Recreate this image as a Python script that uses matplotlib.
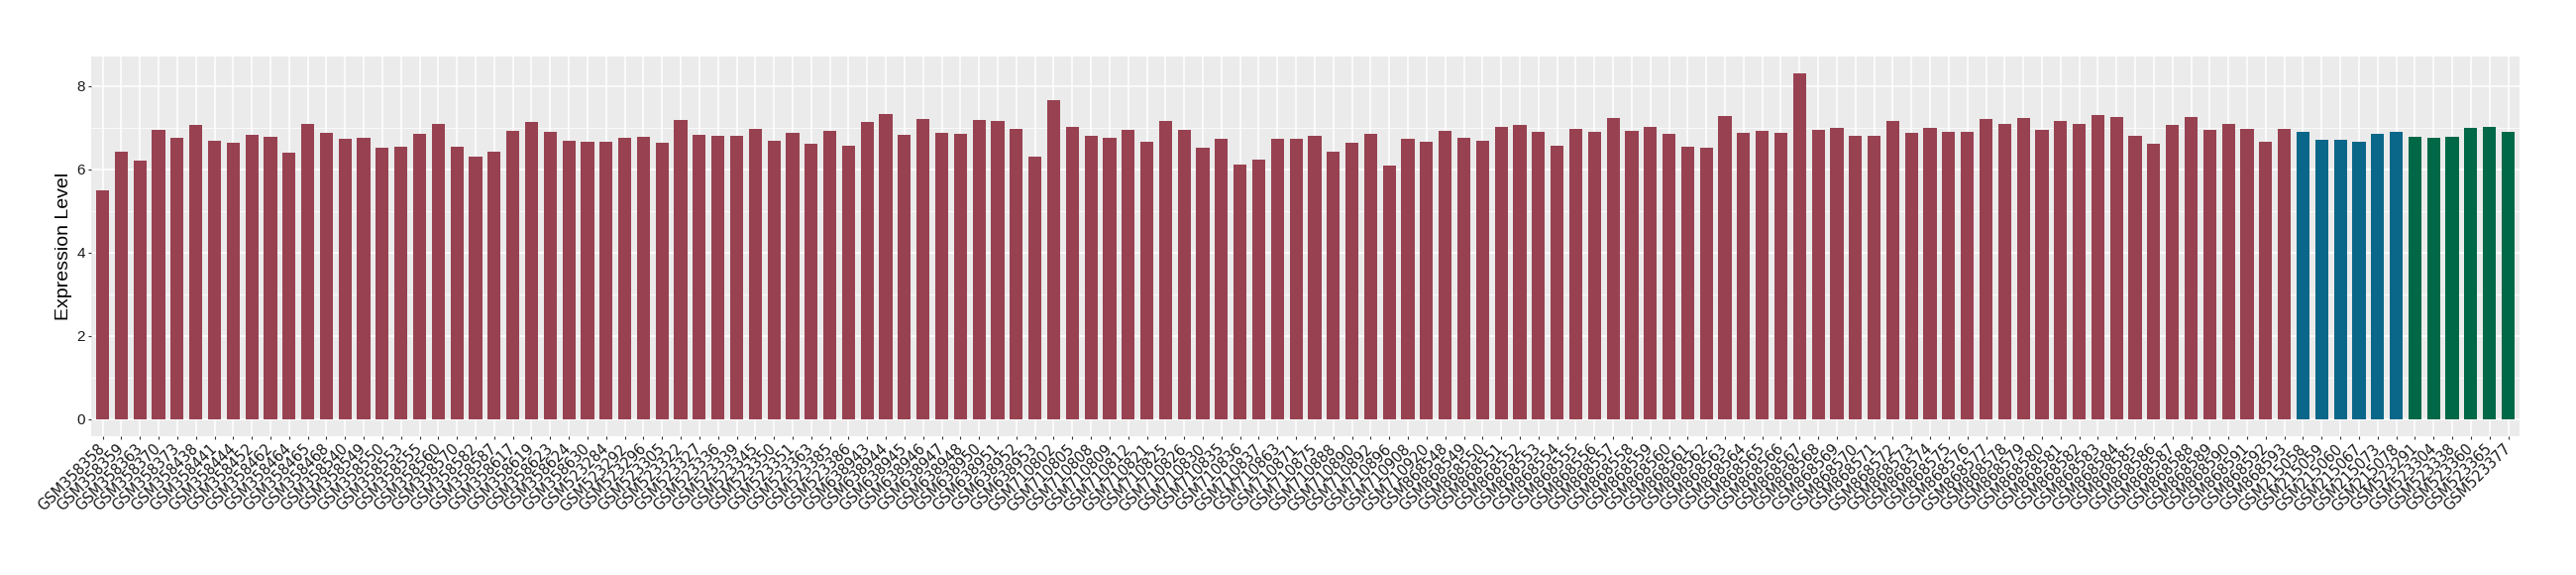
import matplotlib
matplotlib.use("Agg")
import matplotlib.pyplot as plt
import numpy as np

# sample ids, one list per colour group
red_samples = [
    "GSM358358", "GSM358359", "GSM358363", "GSM358370", "GSM358373", "GSM358438",
    "GSM358441", "GSM358444", "GSM358452", "GSM358462", "GSM358464", "GSM358465",
    "GSM358468", "GSM358540", "GSM358549", "GSM358550", "GSM358553", "GSM358555",
    "GSM358560", "GSM358570", "GSM358582", "GSM358587", "GSM358617", "GSM358619",
    "GSM358623", "GSM358624", "GSM358630",
    "GSM523284", "GSM523292", "GSM523296", "GSM523305", "GSM523322", "GSM523327",
    "GSM523336", "GSM523339", "GSM523345", "GSM523350", "GSM523351", "GSM523363",
    "GSM523385", "GSM523386",
    "GSM638943", "GSM638944", "GSM638945", "GSM638946", "GSM638947", "GSM638948",
    "GSM638950", "GSM638951", "GSM638952", "GSM638953",
    "GSM710802", "GSM710805", "GSM710808", "GSM710809", "GSM710812", "GSM710821",
    "GSM710825", "GSM710826", "GSM710830", "GSM710835", "GSM710836", "GSM710837",
    "GSM710863", "GSM710871", "GSM710875", "GSM710888", "GSM710890", "GSM710892",
    "GSM710896", "GSM710908", "GSM710920",
    "GSM868548", "GSM868549", "GSM868550", "GSM868551", "GSM868552", "GSM868553",
    "GSM868554", "GSM868555", "GSM868556", "GSM868557", "GSM868558", "GSM868559",
    "GSM868560", "GSM868561", "GSM868562", "GSM868563", "GSM868564", "GSM868565",
    "GSM868566", "GSM868567", "GSM868568", "GSM868569", "GSM868570", "GSM868571",
    "GSM868572", "GSM868573", "GSM868574", "GSM868575", "GSM868576", "GSM868577",
    "GSM868578", "GSM868579", "GSM868580", "GSM868581", "GSM868582", "GSM868583",
    "GSM868584", "GSM868585", "GSM868586", "GSM868587", "GSM868588", "GSM868589",
    "GSM868590", "GSM868591", "GSM868592", "GSM868593",
]
red_values = [
    5.49, 6.42, 6.21, 6.95, 6.75, 7.06, 6.68, 6.63, 6.83, 6.78, 6.40, 7.09,
    6.87, 6.73, 6.75, 6.52, 6.54, 6.85, 7.09, 6.54, 6.30, 6.42, 6.92, 7.13,
    6.90, 6.68, 6.66,
    6.66, 6.75, 6.78, 6.63, 7.18, 6.83, 6.80, 6.80, 6.97, 6.68, 6.87, 6.61,
    6.92, 6.56,
    7.13, 7.33, 6.83, 7.21, 6.87, 6.85, 7.18, 7.16, 6.97, 6.30,
    7.66, 7.02, 6.80, 6.75, 6.94, 6.66, 7.16, 6.94, 6.52, 6.73, 6.11, 6.23,
    6.73, 6.73, 6.80, 6.42, 6.63, 6.85, 6.09, 6.73, 6.66,
    6.92, 6.75, 6.68, 7.02, 7.06, 6.90, 6.56, 6.97, 6.90, 7.23, 6.92, 7.02,
    6.85, 6.54, 6.52, 7.28, 6.87, 6.92, 6.87, 8.30, 6.94, 6.99, 6.80, 6.80,
    7.16, 6.87, 6.99, 6.90, 6.90, 7.21, 7.09, 7.23, 6.94, 7.16, 7.09, 7.30,
    7.25, 6.80, 6.61, 7.06, 7.25, 6.94, 7.09, 6.97, 6.66, 6.97,
]
blue_samples = ["GSM215058", "GSM215059", "GSM215060", "GSM215067", "GSM215073", "GSM215078"]
blue_values = [6.90, 6.71, 6.71, 6.66, 6.85, 6.90]
green_samples = ["GSM523291", "GSM523304", "GSM523338", "GSM523360", "GSM523365", "GSM523377"]
green_values = [6.78, 6.75, 6.78, 6.99, 7.02, 6.90]

RED = "#984251"
BLUE = "#0B6789"
GREEN = "#006847"

samples = red_samples + blue_samples + green_samples
values = red_values + blue_values + green_values
colors = [RED] * len(red_samples) + [BLUE] * len(blue_samples) + [GREEN] * len(green_samples)

fig = plt.figure(figsize=(26, 5.8), dpi=100)
ax = fig.add_axes([0.0355, 0.2414, 0.9425, 0.6608])
ax.set_facecolor("#EBEBEB")

x = np.arange(len(samples))
ax.bar(x, values, width=0.7, color=colors, zorder=2)

ax.set_xlim(-0.6, len(samples) - 0.4)
ax.set_ylim(-0.415, 8.715)
ax.set_yticks([0, 2, 4, 6, 8])
ax.set_yticks([1, 3, 5, 7], minor=True)
ax.grid(which="major", color="white", lw=1.1)
ax.grid(which="minor", axis="y", color="white", lw=0.55)
ax.set_axisbelow(True)
for s in ax.spines.values():
    s.set_visible(False)

ax.set_xticks(x)
ax.set_xticklabels(samples, rotation=45, ha="right", va="center",
                   rotation_mode="anchor", fontsize=10.5, color="#1a1a1a")
ax.set_yticklabels(["0", "2", "4", "6", "8"], fontsize=11, color="#1a1a1a",
                   family="Liberation Sans")
ax.tick_params(axis="both", which="major", color="#333333", length=2.5, width=0.8, pad=2)
ax.tick_params(axis="x", which="major", pad=5)
ax.tick_params(axis="y", which="minor", length=0)
ax.set_ylabel("Expression Level", fontsize=14, family="Liberation Sans", labelpad=3)

fig.savefig("out.png", dpi=100)
